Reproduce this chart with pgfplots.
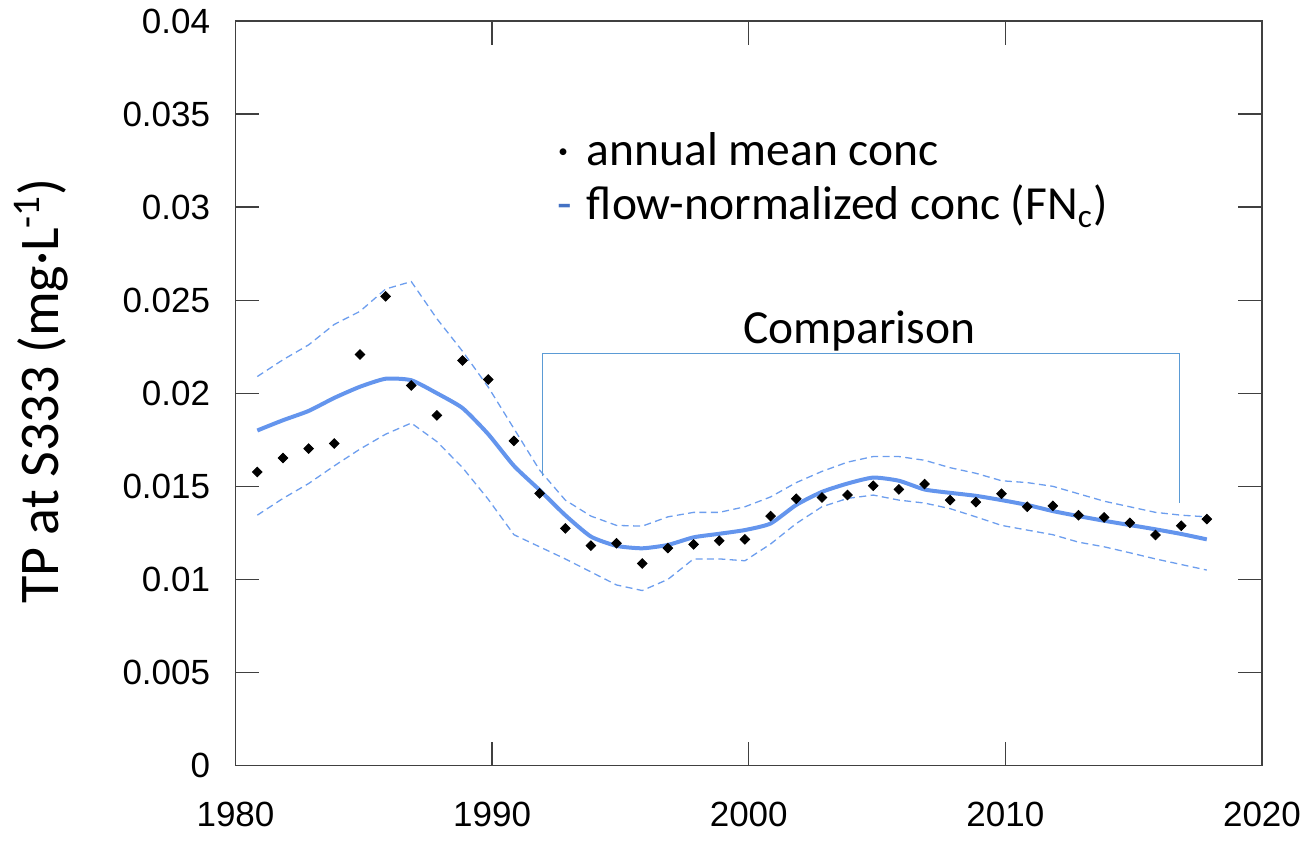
\documentclass[border=0pt]{standalone}
\usepackage{fontspec}
\setmainfont{Liberation Sans}
\newfontfamily\calibri{Carlito}
\usepackage{pgfplots}
\usepackage{pgfplotstable}
\pgfplotsset{compat=1.18}

\definecolor{fnblue}{RGB}{100,149,237}
\definecolor{bandblue}{RGB}{109,158,238}
\definecolor{brackblue}{RGB}{91,155,213}
\definecolor{legblue}{RGB}{68,114,196}
\definecolor{axgray}{RGB}{64,64,64}

% annual mean TP concentration (mg/L)
\pgfplotstableread{
year conc
1980.85 0.01577
1981.85 0.01652
1982.85 0.01703
1983.85 0.01730
1984.85 0.02208
1985.85 0.02521
1986.85 0.02042
1987.85 0.01881
1988.85 0.02176
1989.85 0.02074
1990.85 0.01744
1991.85 0.01462
1992.85 0.01274
1993.85 0.01181
1994.85 0.01194
1995.85 0.01086
1996.85 0.01168
1997.85 0.01188
1998.85 0.01208
1999.85 0.01215
2000.85 0.01340
2001.85 0.01433
2002.85 0.01440
2003.85 0.01453
2004.85 0.01503
2005.85 0.01483
2006.85 0.01512
2007.85 0.01426
2008.85 0.01415
2009.85 0.01460
2010.85 0.01390
2011.85 0.01395
2012.85 0.01345
2013.85 0.01333
2014.85 0.01304
2015.85 0.01238
2016.85 0.01288
2017.85 0.01324
}\annual

% flow-normalized concentration with lower / upper bounds
\pgfplotstableread{
year fn lo hi
1980.85 0.01800 0.01345 0.02090
1981.85 0.01855 0.01435 0.02180
1982.85 0.01905 0.01515 0.02260
1983.85 0.01975 0.01610 0.02370
1984.85 0.02035 0.01700 0.02440
1985.85 0.02078 0.01780 0.02560
1986.85 0.02070 0.01840 0.02600
1987.85 0.02000 0.01740 0.02400
1988.85 0.01920 0.01600 0.02225
1989.85 0.01780 0.01430 0.02033
1990.85 0.01610 0.01240 0.01810
1991.85 0.01480 0.01175 0.01587
1992.85 0.01345 0.01110 0.01426
1993.85 0.01230 0.01040 0.01340
1994.85 0.01180 0.00970 0.01290
1995.85 0.01167 0.00940 0.01286
1996.85 0.01185 0.01000 0.01336
1997.85 0.01226 0.01110 0.01360
1998.85 0.01245 0.01110 0.01360
1999.85 0.01265 0.01100 0.01390
2000.85 0.01300 0.01190 0.01443
2001.85 0.01400 0.01300 0.01520
2002.85 0.01470 0.01390 0.01580
2003.85 0.01515 0.01435 0.01630
2004.85 0.01547 0.01453 0.01660
2005.85 0.01530 0.01426 0.01660
2006.85 0.01483 0.01410 0.01640
2007.85 0.01465 0.01380 0.01600
2008.85 0.01449 0.01336 0.01570
2009.85 0.01426 0.01290 0.01530
2010.85 0.01400 0.01265 0.01520
2011.85 0.01367 0.01240 0.01500
2012.85 0.01340 0.01200 0.01460
2013.85 0.01315 0.01175 0.01420
2014.85 0.01292 0.01143 0.01390
2015.85 0.01269 0.01110 0.01360
2016.85 0.01244 0.01080 0.01345
2017.85 0.01215 0.01050 0.01336
}\fndata

\begin{document}
\begin{tikzpicture}
\begin{axis}[
  at={(0,0)}, anchor=south west,
  scale only axis,
  width=513.25pt, height=372.25pt,
  xmin=1980, xmax=2020, ymin=0, ymax=0.04,
  xtick={1980,1990,...,2020},
  ytick={0,0.005,...,0.04},
  scaled y ticks=false,
  axis line style={axgray, line width=0.65pt},
  tick style={axgray, line width=0.65pt},
  tick align=inside,
  major tick length=12pt,
  /pgf/number format/assume math mode=true,
  xticklabel style={/pgf/number format/1000 sep={}, inner sep=0pt, yshift=-18pt},
  yticklabel style={/pgf/number format/fixed, /pgf/number format/precision=3, inner sep=0pt, xshift=-12.5pt},
  ticklabel style={font=\fontsize{17.5}{20}\selectfont},
  ylabel={\calibri TP at S333 (mg·L\textsuperscript{-1})},
  ylabel style={at={(axis description cs:-0.1729,0.503)}, anchor=base, font=\fontsize{28}{32}\selectfont},
  clip=false,
]
  % confidence band
  \addplot[bandblue, line width=0.65pt, dash pattern=on 3.5pt off 2.2pt] table[x=year, y=hi] {\fndata};
  \addplot[bandblue, line width=0.65pt, dash pattern=on 3.5pt off 2.2pt] table[x=year, y=lo] {\fndata};
  % flow-normalized concentration
  \addplot[fnblue, line width=2pt, line join=round, smooth, tension=0.35] table[x=year, y=fn] {\fndata};
  % annual means
  \addplot[only marks, mark=square*, mark size=1.7pt, mark options={black, rotate=45}] table[x=year, y=conc] {\annual};

  % comparison bracket
  \draw[brackblue, line width=0.6pt] (axis cs:1991.97,0.01554) -- (axis cs:1991.97,0.02215) -- (axis cs:2016.80,0.02215) -- (axis cs:2016.80,0.01411);
  \node[anchor=base, inner sep=0pt, font=\calibri\fontsize{23.75}{28}\selectfont] at (axis cs:2004.3,0.02270) {Comparison};

  % legend text
  \node[anchor=base west, inner sep=0pt, font=\calibri\fontsize{23.75}{28}\selectfont] at (axis cs:1992.55,0.03221) {·};
  \node[anchor=base west, inner sep=0pt, font=\calibri\fontsize{23.75}{28}\selectfont] at (axis cs:1993.68,0.03221) {annual mean conc};
  \node[anchor=base west, inner sep=0pt, font=\calibri\fontsize{23.75}{28}\selectfont, text=legblue] at (axis cs:1992.55,0.02932) {-};
  \node[anchor=base west, inner sep=0pt, font=\calibri\fontsize{23.75}{28}\selectfont] at (axis cs:1993.68,0.02932) {flow-normalized conc (FN\textsubscript{c})};
\end{axis}
\pgfresetboundingbox
\path (-117.75pt,-38.75pt) rectangle (535.25pt,382.75pt);
\end{tikzpicture}
\end{document}
